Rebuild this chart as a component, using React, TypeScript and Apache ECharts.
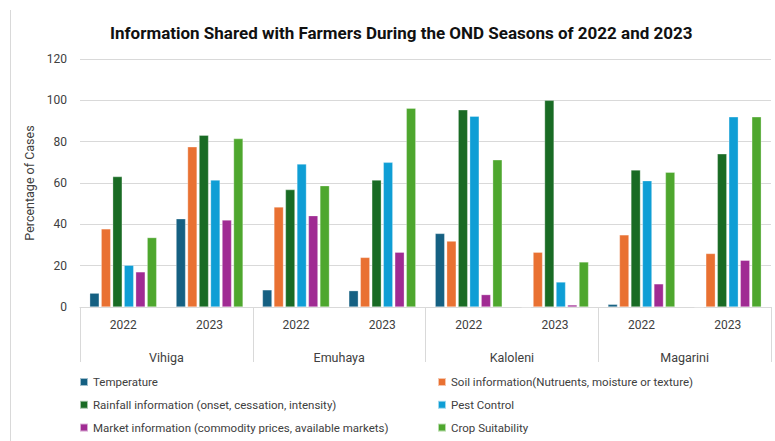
import React, { useEffect, useRef } from "react";
import * as echarts from "echarts";

const categories = ["2022", "2023", "2022", "2023", "2022", "2023", "2022", "2023"];
const regions = ["Vihiga", "Emuhaya", "Kaloleni", "Magarini"];
const yTicks = { min: 0, max: 120, interval: 20 };

const seriesNames = [
  "Temperature",
  "Soil information(Nutruents, moisture or texture)",
  "Rainfall information (onset, cessation, intensity)",
  "Pest Control",
  "Market information (commodity prices, available markets)",
  "Crop Suitability",
];
const temperature = [6.7, 42.7, 8.3, 7.9, 35.6, 0, 1.3, 0];
const soil = [37.8, 77.5, 48.4, 24.0, 31.9, 26.5, 34.9, 25.9];
const rainfall = [63.1, 83.1, 56.8, 61.4, 95.4, 100, 66.3, 74.1];
const pest = [20.2, 61.4, 69.2, 70.0, 92.3, 12.1, 61.1, 92.0];
const market = [17.0, 42.1, 44.2, 26.5, 6.0, 1.0, 11.2, 22.6];
const crop = [33.6, 81.5, 58.7, 96.2, 71.2, 21.8, 65.2, 92.0];
const colors = ["#156082", "#E97132", "#196B24", "#0F9ED5", "#A02B93", "#4EA72E"];

const allValues = [temperature, soil, rainfall, pest, market, crop];

const FONT = "Roboto";

export default function App() {
  const ref = useRef<HTMLDivElement>(null);
  useEffect(() => {
    if (!ref.current) return;
    const chart = echarts.init(ref.current, null, { renderer: "svg" });
    const legendText = { color: "#404040", fontSize: 11.5, fontFamily: FONT, lineHeight: 14 };
    const legendBase = {
      orient: "vertical",
      top: 375,
      height: 66,
      padding: 0,
      icon: "rect",
      itemWidth: 8,
      itemHeight: 8,
      itemGap: 8.8,
      textStyle: legendText,
    };
    chart.setOption({
      animation: false,
      color: colors,
      textStyle: { fontFamily: FONT },
      title: {
        text: "Information Shared with Farmers During the OND Seasons of 2022 and 2023",
        left: 105,
        top: 19,
        textStyle: { fontSize: 17, fontWeight: "bold", color: "#111", fontFamily: FONT },
      },
      graphic: [
        {
          type: "line",
          shape: { x1: 10.5, y1: 10, x2: 10.5, y2: 441 },
          style: { stroke: "#d9d9d9", lineWidth: 1 },
        },
      ],
      legend: [
        { ...legendBase, data: [seriesNames[0], seriesNames[2], seriesNames[4]], left: 79 },
        { ...legendBase, data: [seriesNames[1], seriesNames[3], seriesNames[5]], left: 437 },
      ],
      grid: { left: 80, right: 4, top: 59, bottom: 134, containLabel: false },
      xAxis: [
        {
          type: "category",
          data: categories,
          position: "bottom",
          axisLine: { show: true, lineStyle: { color: "#d9d9d9" } },
          axisTick: { show: false },
          axisLabel: { color: "#404040", fontSize: 12, margin: 12, interval: 0, fontFamily: FONT },
        },
        {
          type: "category",
          data: regions,
          position: "bottom",
          axisLine: { show: false },
          axisTick: { show: true, length: 55, lineStyle: { color: "#d9d9d9" } },
          axisLabel: { color: "#404040", fontSize: 12.5, margin: 44, interval: 0, fontFamily: FONT },
        },
      ],
      yAxis: {
        type: "value",
        min: yTicks.min,
        max: yTicks.max,
        interval: yTicks.interval,
        name: "Percentage of Cases",
        nameLocation: "middle",
        nameGap: 34,
        nameTextStyle: { color: "#404040", fontSize: 12.5, fontFamily: FONT },
        axisLine: { show: false },
        axisTick: { show: false },
        axisLabel: { color: "#404040", fontSize: 12, margin: 13, fontFamily: FONT },
        splitLine: { lineStyle: { color: "#d9d9d9" } },
      },
      series: seriesNames.map((name, i) => ({
        name,
        type: "bar",
        xAxisIndex: 0,
        data: allValues[i],
        barWidth: 9.5,
        barGap: "21%",
        itemStyle: { color: colors[i], borderColor: "rgba(255,255,255,0.6)", borderWidth: 0.5 },
      })),
    });
    return () => chart.dispose();
  }, []);
  return (
    <div
      ref={ref}
      style={{ position: "absolute", left: 0, top: 0, width: 775, height: 441, background: "#fff" }}
    />
  );
}
